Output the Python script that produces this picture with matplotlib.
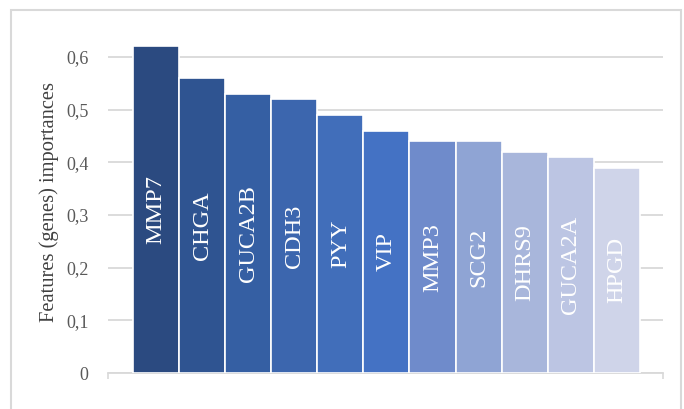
import matplotlib
matplotlib.use("Agg")
import matplotlib.pyplot as plt
from matplotlib.patches import Rectangle

# ---------------------------------------------------------------------------
# Data
# ---------------------------------------------------------------------------
genes = ["MMP7", "CHGA", "GUCA2B", "CDH3", "PYY", "VIP",
         "MMP3", "SCG2", "DHRS9", "GUCA2A", "HPGD"]
importances = [0.62, 0.56, 0.53, 0.52, 0.49, 0.46,
               0.44, 0.44, 0.42, 0.41, 0.39]
bar_colors = ["#2B4A80", "#2F5491", "#355FA3", "#3C66AE", "#416EBA", "#4472C4",
              "#6F8BCB", "#8FA4D4", "#A8B6DB", "#BCC5E3", "#CFD4E9"]
yticks = [0, 0.1, 0.2, 0.3, 0.4, 0.5, 0.6]
ytick_labels = ["0", "0,1", "0,2", "0,3", "0,4", "0,5", "0,6"]
ylabel = "Features (genes) importances"

plt.rcParams["font.family"] = ["Liberation Serif", "DejaVu Serif"]

W, H = 684, 409
fig = plt.figure(figsize=(W / 100, H / 100), dpi=100)

# outer chart frame (bottom edge cut off in the reference)
fig.patches.append(Rectangle((11 / W, -0.1), (681 - 11) / W, 1.1 - 10 / H,
                             transform=fig.transFigure, fill=False,
                             edgecolor="#D9D9D9", linewidth=1.5))

ytop = 0.65
ax_bottom = 373
ax_top = ax_bottom - ytop * (373 - 57) / 0.6
ax = fig.add_axes([108 / W, 1 - ax_bottom / H, (663 - 108) / W, (ax_bottom - ax_top) / H])

x = list(range(len(genes)))
ax.bar(x, importances, width=1.0, color=bar_colors,
       edgecolor="white", linewidth=1.2, zorder=3)

# gene names written inside each bar
for xi, v, g in zip(x, importances, genes):
    ax.text(xi, v / 2, g, rotation=90, ha="center", va="center",
            color="white", fontsize=17.5, zorder=4)

ax.set_xlim(-1.04, 11.0)
ax.set_ylim(0, ytop)
ax.set_yticks(yticks)
ax.set_yticklabels(ytick_labels, color="#595959", fontsize=13)
ax.tick_params(axis="y", length=0, pad=14)
ax.set_xticks([-1.04, 11.0])
ax.set_xticklabels(["", ""])
ax.tick_params(axis="x", length=4, color="#D9D9D9", width=1.2)
ax.yaxis.grid(True, color="#D9D9D9", linewidth=1.3, zorder=0)
ax.set_axisbelow(True)
for s in ["top", "right", "left"]:
    ax.spines[s].set_visible(False)
ax.spines["bottom"].set_color("#D9D9D9")
ax.spines["bottom"].set_linewidth(1.3)

ax.set_ylabel(ylabel, fontsize=14.8, color="#404040", labelpad=5)

fig.savefig("out.png", dpi=100)
